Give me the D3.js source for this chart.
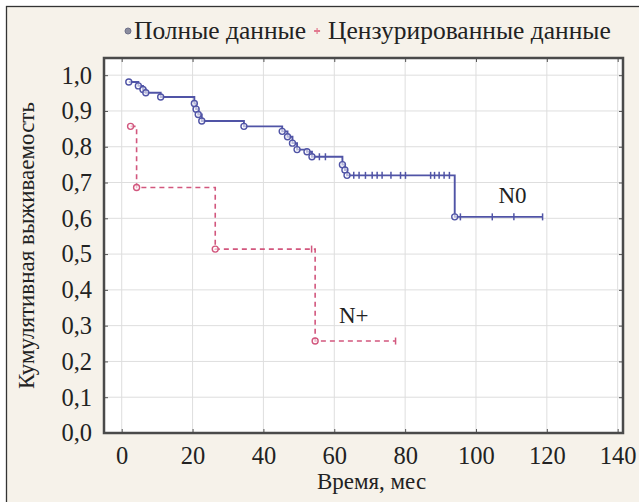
<!DOCTYPE html>
<html>
<head>
<meta charset="utf-8">
<script src="https://cdn.jsdelivr.net/npm/d3@7"></script>
<style>
  body { margin: 0; background: #fff; }
  svg { display: block; }
</style>
</head>
<body>
<svg id="chart" width="639" height="502"></svg>
<script>
// axis ticks
const timeTicks = [0, 20, 40, 60, 80, 100, 120, 140];
const survTicks = [0, 0.1, 0.2, 0.3, 0.4, 0.5, 0.6, 0.7, 0.8, 0.9, 1.0];

// N0 group: events (complete data) and censored times
const n0EventTimes = [2.0, 4.7, 6.0, 6.8, 11.0, 20.5, 21.0, 21.6, 22.6, 34.5, 45.3, 46.8, 48.2, 49.5, 52.3, 53.7, 62.3, 63.0, 63.6, 94.0];
const n0EventSurv  = [0.981, 0.970, 0.960, 0.951, 0.939, 0.921, 0.905, 0.890, 0.872, 0.857, 0.843, 0.828, 0.810, 0.792, 0.786, 0.772, 0.750, 0.735, 0.720, 0.604];
const n0CensorTimes = [55.8, 57.5, 65.5, 67.0, 68.8, 70.7, 72.1, 73.5, 76.0, 78.7, 80.1, 87.2, 88.3, 89.6, 91.0, 92.5, 95.6, 104.6, 110.7, 118.8];

// N+ group
const npEventTimes = [2.5, 4.2, 26.4, 54.6];
const npEventSurv  = [0.857, 0.686, 0.514, 0.257];
const npCensorTimes = [53.6, 77.3];

const legendLabels = ['Полные данные', 'Цензурированные данные'];

const svg = d3.select('#chart');
const W = 639, H = 502;
const plot = { left: 104, right: 623, top: 58, bottom: 433 };

const x = d3.scaleLinear().domain([-5, 141.5]).range([plot.left, plot.right]);
const y = d3.scaleLinear().domain([0, 1.048]).range([plot.bottom, plot.top]);

const fmt = d => d3.format('.1f')(d).replace('.', ',');
const serif = "'Liberation Serif', 'Times New Roman', serif";

// figure background and frame
svg.append('rect').attr('width', W).attr('height', H).attr('fill', '#fff');
svg.append('rect')
  .attr('x', 6.5).attr('y', 6.5).attr('width', 640).attr('height', 510)
  .attr('fill', '#f6f2ea').attr('stroke', '#333').attr('stroke-width', 1.3);

// plot area
svg.append('rect')
  .attr('x', plot.left).attr('y', plot.top)
  .attr('width', plot.right - plot.left).attr('height', plot.bottom - plot.top)
  .attr('fill', '#fff');

// grid
const grid = svg.append('g').attr('stroke', '#dedede').attr('stroke-width', 1);
grid.selectAll('.vg').data(timeTicks).enter().append('line')
  .attr('x1', d => x(d)).attr('x2', d => x(d))
  .attr('y1', plot.top).attr('y2', plot.bottom);
grid.selectAll('.hg').data(survTicks).enter().append('line')
  .attr('x1', plot.left).attr('x2', plot.right)
  .attr('y1', d => y(d)).attr('y2', d => y(d));

// axes (inward ticks, no domain path; frame drawn separately)
const xAxis = svg.append('g').attr('transform', `translate(0,${plot.bottom})`)
  .call(d3.axisBottom(x).tickValues(timeTicks).tickSize(-4).tickPadding(10));
const yAxis = svg.append('g').attr('transform', `translate(${plot.left},0)`)
  .call(d3.axisLeft(y).tickValues(survTicks).tickFormat(fmt).tickSize(-4).tickPadding(12));
svg.append('g').attr('transform', `translate(${plot.right},0)`)
  .call(d3.axisRight(y).tickValues(survTicks).tickFormat('').tickSize(-4));
svg.append('g').attr('transform', `translate(0,${plot.top})`)
  .call(d3.axisTop(x).tickValues(timeTicks).tickFormat('').tickSize(-4));

svg.selectAll('.domain').remove();
svg.selectAll('.tick line').attr('stroke', '#555');
[xAxis, yAxis].forEach(a => a.selectAll('text')
  .style('font-family', serif).style('font-size', '24.5px').attr('fill', '#222'));
xAxis.selectAll('text').attr('dy', '0.85em');

// plot border
svg.append('rect')
  .attr('x', plot.left).attr('y', plot.top)
  .attr('width', plot.right - plot.left).attr('height', plot.bottom - plot.top)
  .attr('fill', 'none').attr('stroke', '#4a4a4a').attr('stroke-width', 2.5);

// axis titles
svg.append('text')
  .attr('x', (plot.left + plot.right) / 2 + 8).attr('y', 489)
  .attr('text-anchor', 'middle')
  .style('font-family', serif).style('font-size', '23px').attr('fill', '#222')
  .text('Время, мес');
svg.append('text')
  .attr('transform', `translate(34,${(plot.top + plot.bottom) / 2}) rotate(-90)`)
  .attr('text-anchor', 'middle')
  .style('font-family', serif).style('font-size', '23px').attr('fill', '#222')
  .text('Кумулятивная выживаемость');

// Kaplan-Meier step path from events, ending at the last censored time
function stepPath(times, surv, endTime) {
  const pts = [[times[0], surv[0]]];
  for (let i = 1; i < times.length; i++) {
    pts.push([times[i], surv[i - 1]]);
    pts.push([times[i], surv[i]]);
  }
  pts.push([endTime, surv[surv.length - 1]]);
  return pts;
}
function levelAt(t, times, surv) {
  let s = surv[0];
  for (let i = 0; i < times.length; i++) if (times[i] <= t) s = surv[i];
  return s;
}

const line = d3.line().x(d => x(d[0])).y(d => y(d[1]));

function drawCurve(times, surv, censor, color, dash, width) {
  const g = svg.append('g');
  g.append('path')
    .datum(stepPath(times, surv, d3.max(censor)))
    .attr('d', line)
    .attr('fill', 'none')
    .attr('stroke', color)
    .attr('stroke-width', width)
    .attr('stroke-dasharray', dash);
  g.selectAll('.cens').data(censor).enter().append('line')
    .attr('x1', d => x(d)).attr('x2', d => x(d))
    .attr('y1', d => y(levelAt(d, times, surv)) - 3.5)
    .attr('y2', d => y(levelAt(d, times, surv)) + 3.5)
    .attr('stroke', color).attr('stroke-width', 1.5);
  g.selectAll('.ev').data(times).enter().append('circle')
    .attr('cx', d => x(d))
    .attr('cy', (d, i) => y(surv[i]))
    .attr('r', 3)
    .attr('fill', '#fff')
    .attr('fill-opacity', 0.6)
    .attr('stroke', color)
    .attr('stroke-width', 1.4);
}

drawCurve(npEventTimes, npEventSurv, npCensorTimes, '#d2577e', '5,4', 1.6);
drawCurve(n0EventTimes, n0EventSurv, n0CensorTimes, '#5054a6', null, 1.9);

// curve labels
svg.append('text').attr('x', x(110.3)).attr('y', y(0.665)).attr('dy', '0.35em')
  .attr('text-anchor', 'middle')
  .style('font-family', serif).style('font-size', '23px').attr('fill', '#222')
  .text('N0');
svg.append('text').attr('x', x(65.5)).attr('y', y(0.33)).attr('dy', '0.35em')
  .attr('text-anchor', 'middle')
  .style('font-family', serif).style('font-size', '23px').attr('fill', '#222')
  .text('N+');

// legend
const lg = svg.append('g');
lg.append('circle').attr('cx', 128).attr('cy', 31).attr('r', 3)
  .attr('fill', '#8a8c9e').attr('stroke', '#6e7088');
const t1 = lg.append('text').attr('x', 134).attr('y', 39)
  .style('font-family', serif).style('font-size', '25.5px').attr('fill', '#222')
  .text(legendLabels[0]);
const w1 = t1.node().getComputedTextLength();
lg.append('line').attr('x1', 134 + w1 + 8).attr('x2', 134 + w1 + 14)
  .attr('y1', 31).attr('y2', 31).attr('stroke', '#e2798f').attr('stroke-width', 2);
lg.append('line').attr('x1', 134 + w1 + 11).attr('x2', 134 + w1 + 11)
  .attr('y1', 28).attr('y2', 34).attr('stroke', '#e2798f').attr('stroke-width', 1.2);
lg.append('text').attr('x', 134 + w1 + 22).attr('y', 39)
  .style('font-family', serif).style('font-size', '25.5px').attr('fill', '#222')
  .text(legendLabels[1]);
</script>
</body>
</html>
